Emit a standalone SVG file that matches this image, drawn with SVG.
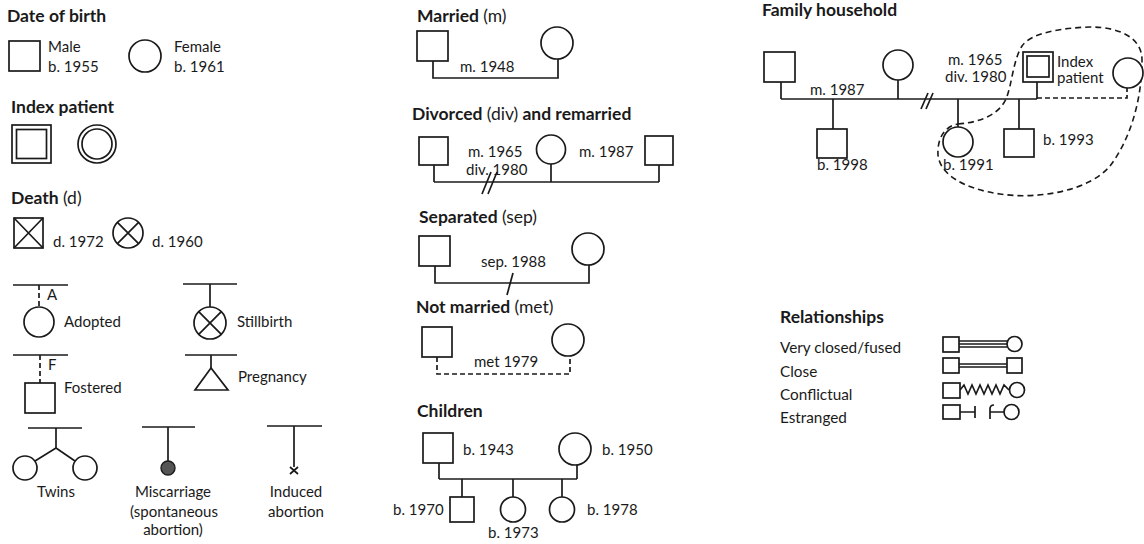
<svg xmlns="http://www.w3.org/2000/svg" width="1144" height="544" viewBox="0 0 1144 544">
<style>
.s{fill:none;stroke:#1a1a1a;stroke-width:1.7}
.w{fill:#fff;stroke:#1a1a1a;stroke-width:1.7}
.d{fill:none;stroke:#1a1a1a;stroke-width:1.7;stroke-dasharray:5 3}
.dl{fill:none;stroke:#1a1a1a;stroke-width:1.6;stroke-dasharray:6 4}
text{font-family:Lato,"Open Sans","Liberation Sans",sans-serif;font-size:15px;fill:#1a1a1a}
.h{font-weight:bold;font-size:17.5px}
.n{font-weight:normal}
.c{text-anchor:middle}
.r{font-size:15.3px}
</style>
<rect width="1144" height="544" fill="#fff"/>

<!-- connectors -->
<g id="connectors">
  <!-- adopted -->
  <line class="s" x1="13" y1="285" x2="68" y2="285"/>
  <line class="d" x1="39" y1="285" x2="39" y2="307" stroke-dasharray="3 2.5"/>
  <!-- stillbirth -->
  <line class="s" x1="183" y1="284" x2="237" y2="284"/>
  <line class="s" x1="210" y1="284" x2="210" y2="307"/>
  <!-- fostered -->
  <line class="s" x1="13" y1="355" x2="68" y2="355"/>
  <line class="d" x1="40" y1="355" x2="40" y2="383" stroke-dasharray="3 2.5"/>
  <!-- pregnancy -->
  <line class="s" x1="185" y1="355" x2="237" y2="355"/>
  <line class="s" x1="211" y1="355" x2="211" y2="368"/>
  <!-- twins -->
  <line class="s" x1="28" y1="428" x2="82" y2="428"/>
  <polyline class="s" points="56,428 56,448 35,461"/>
  <line class="s" x1="56" y1="448" x2="75" y2="461"/>
  <!-- miscarriage -->
  <line class="s" x1="142" y1="427" x2="195" y2="427"/>
  <line class="s" x1="168" y1="427" x2="168" y2="461"/>
  <!-- induced abortion -->
  <line class="s" x1="267" y1="426" x2="322" y2="426"/>
  <line class="s" x1="294" y1="426" x2="294" y2="467"/>
  <path class="s" d="M290 467 L298 474 M298 467 L290 474"/>

  <!-- married -->
  <polyline class="s" points="433,61 433,78 558,78 558,59"/>
  <!-- divorced and remarried -->
  <line class="s" x1="434" y1="182" x2="659" y2="182"/>
  <line class="s" x1="434" y1="165" x2="434" y2="182"/>
  <line class="s" x1="551" y1="164" x2="551" y2="182"/>
  <line class="s" x1="659" y1="165" x2="659" y2="182"/>
  <path class="s" d="M482 194 L491 172 M488 194 L497 172"/>
  <!-- separated -->
  <polyline class="s" points="435,266 435,283 589,283 589,265"/>
  <line class="s" x1="513" y1="273" x2="507" y2="295"/>
  <!-- not married -->
  <polyline class="d" points="437,357 437,374 570,374 570,356"/>
  <!-- children -->
  <line class="s" x1="439" y1="479" x2="577" y2="479"/>
  <line class="s" x1="439" y1="463" x2="439" y2="479"/>
  <line class="s" x1="577" y1="465" x2="577" y2="479"/>
  <line class="s" x1="462" y1="479" x2="462" y2="497"/>
  <line class="s" x1="513" y1="479" x2="513" y2="497"/>
  <line class="s" x1="562" y1="479" x2="562" y2="497"/>

  <!-- family household -->
  <line class="s" x1="781" y1="99" x2="1037" y2="99"/>
  <line class="s" x1="781" y1="82" x2="781" y2="99"/>
  <line class="s" x1="898" y1="80" x2="898" y2="99"/>
  <line class="s" x1="1037" y1="82" x2="1037" y2="99"/>
  <line class="s" x1="833" y1="99" x2="833" y2="129"/>
  <line class="s" x1="958" y1="99" x2="958" y2="127"/>
  <line class="s" x1="1019" y1="99" x2="1019" y2="129"/>
  <path class="s" d="M921 109 L928 93 M926 109 L933 93"/>
  <polyline class="d" points="1037,98 1127,98 1127,88"/>
  <path class="dl" d="M958 124 C985 122 1000 112 1006 99 C1012 85 1013 60 1022 46 C1031 33 1060 28 1090 27 C1120 27 1142 38 1142 60 C1142 100 1130 140 1110 166 C1090 190 1040 200 1000 194 C965 189 940 175 938 155 C937 138 945 126 958 124"/>

  <!-- relationships -->
  <path class="s" stroke-width="1.3" d="M959 341 H1007 M959 344 H1007 M959 347 H1007"/>
  <path class="s" stroke-width="1.3" d="M959 364 H1007 M959 367 H1007"/>
  <polyline class="s" stroke-width="1.3" points="960,390 964,385 968,394 972,385 976,394 980,385 984,394 988,385 992,394 996,385 1000,394 1004,385 1009,390"/>
  <path class="s" stroke-width="1.3" d="M960 412 H975 M975 406 V418 M990 419 V409 Q990 405 994 405 M990 412 H1004"/>
</g>

<!-- Date of birth -->
<g id="date-of-birth">
  <text class="h" x="7" y="22">Date of birth</text>
  <rect class="w" x="9" y="41" width="31" height="30"/>
  <text x="48" y="52">Male</text>
  <text x="48" y="72">b. 1955</text>
  <circle class="w" cx="145" cy="56" r="16"/>
  <text x="174" y="52">Female</text>
  <text x="174" y="72">b. 1961</text>
</g>

<g id="index-patient">
  <text class="h" x="11" y="113">Index patient</text>
  <rect class="w" x="12" y="125" width="39" height="38"/>
  <rect class="s" x="16.5" y="129.5" width="30" height="29"/>
  <circle class="w" cx="97" cy="144" r="19"/>
  <circle class="s" cx="97" cy="144" r="15"/>
</g>

<g id="death">
  <text class="h" x="11" y="204">Death <tspan class="n">(d)</tspan></text>
  <rect class="w" x="14" y="218" width="29" height="30"/>
  <path class="s" d="M14 218 L43 248 M43 218 L14 248"/>
  <text x="53" y="247">d. 1972</text>
  <circle class="w" cx="128" cy="233" r="15"/>
  <path class="s" d="M117.4 222.4 L138.6 243.6 M138.6 222.4 L117.4 243.6"/>
  <text x="152" y="247">d. 1960</text>
</g>

<g id="adopted">
  <text x="47" y="300">A</text>
  <circle class="w" cx="39" cy="322" r="15"/>
  <text x="64" y="327">Adopted</text>
</g>

<g id="stillbirth">
  <circle class="w" cx="210" cy="323" r="16"/>
  <path class="s" d="M198.7 311.7 L221.3 334.3 M221.3 311.7 L198.7 334.3"/>
  <text x="237" y="327">Stillbirth</text>
</g>

<g id="fostered">
  <text x="48" y="370">F</text>
  <rect class="w" x="25" y="383" width="30" height="30"/>
  <text x="64" y="393">Fostered</text>
</g>

<g id="pregnancy">
  <polygon class="w" points="211,368 195,390 228,390"/>
  <text x="238" y="382">Pregnancy</text>
</g>

<g id="twins">
  <circle class="w" cx="25" cy="468" r="12"/>
  <circle class="w" cx="85" cy="468" r="12"/>
  <text class="c" x="56" y="497">Twins</text>
</g>

<g id="miscarriage">
  <circle cx="168" cy="468" r="7" fill="#555" stroke="#1a1a1a" stroke-width="1.4"/>
  <text class="c" x="173" y="497">Miscarriage</text>
  <text class="c" x="174" y="517">(spontaneous</text>
  <text class="c" x="173" y="535">abortion)</text>
</g>

<g id="induced-abortion">
  <text class="c" x="296" y="497">Induced</text>
  <text class="c" x="296" y="517">abortion</text>
</g>

<!-- Married -->
<g id="married">
  <text class="h" x="417" y="22">Married <tspan class="n">(m)</tspan></text>
  <rect class="w" x="417" y="31" width="31" height="30"/>
  <circle class="w" cx="557" cy="43" r="16"/>
  <text x="460" y="72">m. 1948</text>
</g>

<g id="divorced">
  <text class="h" x="412" y="120">Divorced <tspan class="n">(div)</tspan> and remarried</text>
  <rect class="w" x="419" y="137" width="29" height="28"/>
  <circle class="w" cx="551" cy="149.5" r="14.5"/>
  <rect class="w" x="645" y="136" width="28" height="29"/>
  <text x="468" y="157">m. 1965</text>
  <text x="466" y="175">div. 1980</text>
  <text x="579" y="157">m. 1987</text>
</g>

<g id="separated">
  <text class="h" x="419" y="223">Separated <tspan class="n">(sep)</tspan></text>
  <rect class="w" x="419" y="236" width="31" height="30"/>
  <circle class="w" cx="588" cy="249" r="16"/>
  <text x="481" y="267">sep. 1988</text>
</g>

<g id="not-married">
  <text class="h" x="416" y="313">Not married <tspan class="n">(met)</tspan></text>
  <rect class="w" x="422" y="327" width="30" height="30"/>
  <circle class="w" cx="568" cy="340" r="16"/>
  <text x="474" y="367">met 1979</text>
</g>

<g id="children">
  <text class="h" x="417" y="417">Children</text>
  <rect class="w" x="423" y="433" width="30" height="30"/>
  <text x="463" y="455">b. 1943</text>
  <circle class="w" cx="575" cy="449" r="16"/>
  <text x="602" y="455">b. 1950</text>
  <rect class="w" x="450" y="497" width="24" height="25"/>
  <text x="393" y="515">b. 1970</text>
  <circle class="w" cx="513" cy="509.5" r="12.5"/>
  <text x="488" y="538">b. 1973</text>
  <circle class="w" cx="562" cy="509.5" r="12.5"/>
  <text x="587" y="515">b. 1978</text>
</g>

<!-- Family household -->
<g id="family-household">
  <text class="h" x="762" y="16">Family household</text>
  <rect class="w" x="764" y="52" width="31" height="30"/>
  <circle class="w" cx="898" cy="65" r="15"/>
  <text x="810" y="95">m. 1987</text>
  <text x="948" y="65">m. 1965</text>
  <text x="945" y="82">div. 1980</text>
  <rect class="w" x="1023" y="52" width="30" height="30"/>
  <rect class="s" x="1027" y="56" width="22" height="21"/>
  <text x="1057" y="67">Index</text>
  <text x="1057" y="83">patient</text>
  <circle class="w" cx="1128" cy="73" r="15"/>
  <rect class="w" x="817" y="129" width="30" height="29"/>
  <text x="817" y="170">b. 1998</text>
  <circle class="w" cx="958" cy="142" r="15"/>
  <text x="943" y="170">b. 1991</text>
  <rect class="w" x="1004" y="129" width="30" height="28"/>
  <text x="1043" y="145">b. 1993</text>
</g>

<!-- Relationships -->
<g id="relationships">
  <text class="h" x="780" y="323">Relationships</text>
  <text class="r" x="780" y="353">Very closed/fused</text>
  <text class="r" x="780" y="377">Close</text>
  <text class="r" x="780" y="400">Conflictual</text>
  <text class="r" x="780" y="423">Estranged</text>
  <rect class="w" stroke-width="1.3" x="943" y="337" width="16" height="15"/>
  <circle class="w" stroke-width="1.3" cx="1014.5" cy="344" r="7.5"/>
  <rect class="w" stroke-width="1.3" x="943" y="358" width="16" height="15"/>
  <rect class="w" stroke-width="1.3" x="1007" y="358" width="15" height="15"/>
  <rect class="w" stroke-width="1.3" x="943" y="383" width="17" height="15"/>
  <circle class="w" stroke-width="1.3" cx="1017" cy="390" r="7.5"/>
  <rect class="w" stroke-width="1.3" x="943" y="405" width="17" height="14"/>
  <circle class="w" stroke-width="1.3" cx="1011.5" cy="412" r="7.5"/>
</g>
</svg>
